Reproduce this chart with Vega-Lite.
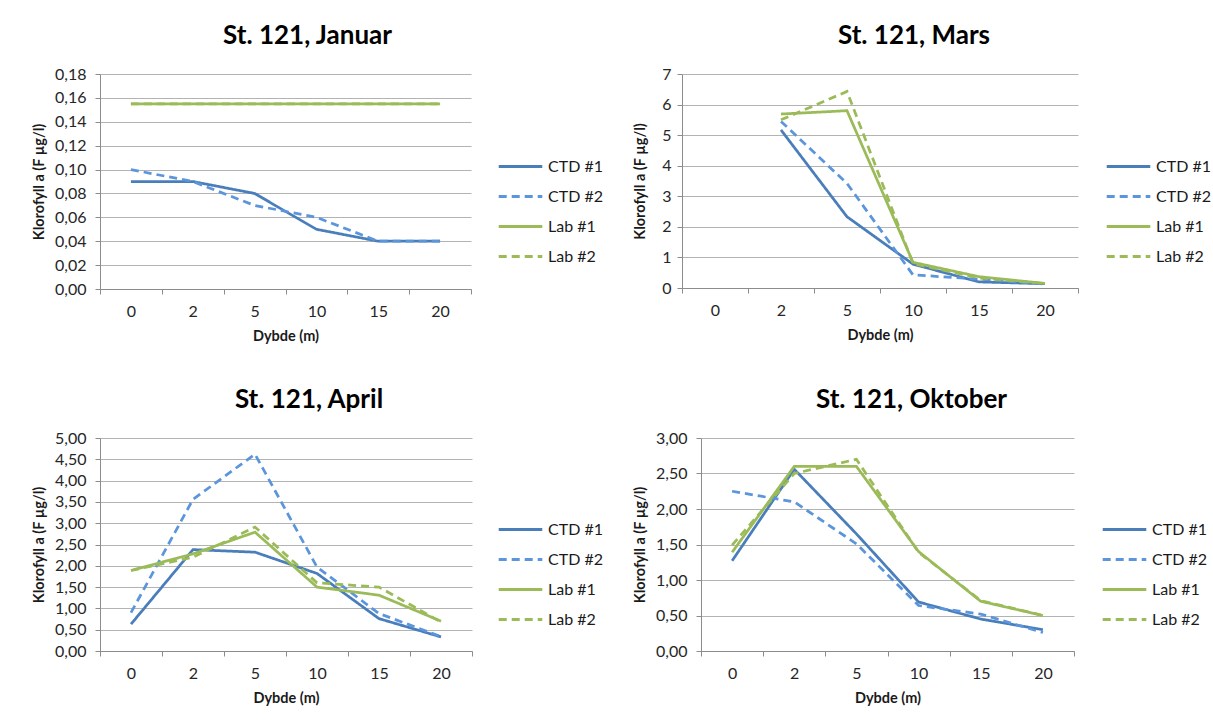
{
  "$schema": "https://vega.github.io/schema/vega-lite/v6.json",
  "background": "white",
  "padding": {"left": 31, "top": 23, "right": 5, "bottom": 5},
  "spacing": 44,
  "config": {
    "font": "Lato",
    "view": {"stroke": null},
    "axis": {"labelFont": "Lato", "labelFontSize": 16, "labelColor": "#262626", "titleFont": "Lato", "titleFontSize": 14.5, "titleFontWeight": "bold", "titleColor": "#1a1a1a", "domainColor": "#8c8c8c", "tickColor": "#8c8c8c", "gridColor": "#b3b3b3", "tickSize": 5},
    "axisX": {"grid": false, "labelAngle": 0, "tickBand": "extent", "labelPadding": 9, "titlePadding": 10},
    "axisY": {"grid": true, "labelPadding": 9, "titlePadding": 8},
    "title": {"font": "Lato", "fontSize": 26, "fontWeight": "bold", "color": "#000000", "anchor": "middle"},
    "legend": {"labelFont": "Lato", "labelFontSize": 16, "labelColor": "#1a1a1a"}
  },
  "data": {"values": [
    {"month": "Januar", "series": "CTD #1", "depth": "0", "value": 0.09},
    {"month": "Januar", "series": "CTD #1", "depth": "2", "value": 0.09},
    {"month": "Januar", "series": "CTD #1", "depth": "5", "value": 0.08},
    {"month": "Januar", "series": "CTD #1", "depth": "10", "value": 0.05},
    {"month": "Januar", "series": "CTD #1", "depth": "15", "value": 0.04},
    {"month": "Januar", "series": "CTD #1", "depth": "20", "value": 0.04},
    {"month": "Januar", "series": "CTD #2", "depth": "0", "value": 0.10},
    {"month": "Januar", "series": "CTD #2", "depth": "2", "value": 0.09},
    {"month": "Januar", "series": "CTD #2", "depth": "5", "value": 0.07},
    {"month": "Januar", "series": "CTD #2", "depth": "10", "value": 0.06},
    {"month": "Januar", "series": "CTD #2", "depth": "15", "value": 0.04},
    {"month": "Januar", "series": "CTD #2", "depth": "20", "value": 0.04},
    {"month": "Januar", "series": "Lab #1", "depth": "0", "value": 0.155},
    {"month": "Januar", "series": "Lab #1", "depth": "2", "value": 0.155},
    {"month": "Januar", "series": "Lab #1", "depth": "5", "value": 0.155},
    {"month": "Januar", "series": "Lab #1", "depth": "10", "value": 0.155},
    {"month": "Januar", "series": "Lab #1", "depth": "15", "value": 0.155},
    {"month": "Januar", "series": "Lab #1", "depth": "20", "value": 0.155},
    {"month": "Januar", "series": "Lab #2", "depth": "0", "value": 0.155},
    {"month": "Januar", "series": "Lab #2", "depth": "2", "value": 0.155},
    {"month": "Januar", "series": "Lab #2", "depth": "5", "value": 0.155},
    {"month": "Januar", "series": "Lab #2", "depth": "10", "value": 0.155},
    {"month": "Januar", "series": "Lab #2", "depth": "15", "value": 0.155},
    {"month": "Januar", "series": "Lab #2", "depth": "20", "value": 0.155},

    {"month": "Mars", "series": "CTD #1", "depth": "2", "value": 5.17},
    {"month": "Mars", "series": "CTD #1", "depth": "5", "value": 2.33},
    {"month": "Mars", "series": "CTD #1", "depth": "10", "value": 0.78},
    {"month": "Mars", "series": "CTD #1", "depth": "15", "value": 0.2},
    {"month": "Mars", "series": "CTD #1", "depth": "20", "value": 0.14},
    {"month": "Mars", "series": "CTD #2", "depth": "2", "value": 5.45},
    {"month": "Mars", "series": "CTD #2", "depth": "5", "value": 3.42},
    {"month": "Mars", "series": "CTD #2", "depth": "10", "value": 0.43},
    {"month": "Mars", "series": "CTD #2", "depth": "15", "value": 0.29},
    {"month": "Mars", "series": "CTD #2", "depth": "20", "value": 0.13},
    {"month": "Mars", "series": "Lab #1", "depth": "2", "value": 5.69},
    {"month": "Mars", "series": "Lab #1", "depth": "5", "value": 5.8},
    {"month": "Mars", "series": "Lab #1", "depth": "10", "value": 0.84},
    {"month": "Mars", "series": "Lab #1", "depth": "15", "value": 0.37},
    {"month": "Mars", "series": "Lab #1", "depth": "20", "value": 0.15},
    {"month": "Mars", "series": "Lab #2", "depth": "2", "value": 5.5},
    {"month": "Mars", "series": "Lab #2", "depth": "5", "value": 6.43},
    {"month": "Mars", "series": "Lab #2", "depth": "10", "value": 0.8},
    {"month": "Mars", "series": "Lab #2", "depth": "15", "value": 0.33},
    {"month": "Mars", "series": "Lab #2", "depth": "20", "value": 0.15},

    {"month": "April", "series": "CTD #1", "depth": "0", "value": 0.63},
    {"month": "April", "series": "CTD #1", "depth": "2", "value": 2.38},
    {"month": "April", "series": "CTD #1", "depth": "5", "value": 2.32},
    {"month": "April", "series": "CTD #1", "depth": "10", "value": 1.82},
    {"month": "April", "series": "CTD #1", "depth": "15", "value": 0.76},
    {"month": "April", "series": "CTD #1", "depth": "20", "value": 0.33},
    {"month": "April", "series": "CTD #2", "depth": "0", "value": 0.9},
    {"month": "April", "series": "CTD #2", "depth": "2", "value": 3.56},
    {"month": "April", "series": "CTD #2", "depth": "5", "value": 4.62},
    {"month": "April", "series": "CTD #2", "depth": "10", "value": 1.97},
    {"month": "April", "series": "CTD #2", "depth": "15", "value": 0.88},
    {"month": "April", "series": "CTD #2", "depth": "20", "value": 0.34},
    {"month": "April", "series": "Lab #1", "depth": "0", "value": 1.89},
    {"month": "April", "series": "Lab #1", "depth": "2", "value": 2.28},
    {"month": "April", "series": "Lab #1", "depth": "5", "value": 2.79},
    {"month": "April", "series": "Lab #1", "depth": "10", "value": 1.5},
    {"month": "April", "series": "Lab #1", "depth": "15", "value": 1.31},
    {"month": "April", "series": "Lab #1", "depth": "20", "value": 0.7},
    {"month": "April", "series": "Lab #2", "depth": "0", "value": 1.89},
    {"month": "April", "series": "Lab #2", "depth": "2", "value": 2.2},
    {"month": "April", "series": "Lab #2", "depth": "5", "value": 2.91},
    {"month": "April", "series": "Lab #2", "depth": "10", "value": 1.6},
    {"month": "April", "series": "Lab #2", "depth": "15", "value": 1.5},
    {"month": "April", "series": "Lab #2", "depth": "20", "value": 0.68},

    {"month": "Oktober", "series": "CTD #1", "depth": "0", "value": 1.27},
    {"month": "Oktober", "series": "CTD #1", "depth": "2", "value": 2.56},
    {"month": "Oktober", "series": "CTD #1", "depth": "5", "value": 1.65},
    {"month": "Oktober", "series": "CTD #1", "depth": "10", "value": 0.69},
    {"month": "Oktober", "series": "CTD #1", "depth": "15", "value": 0.45},
    {"month": "Oktober", "series": "CTD #1", "depth": "20", "value": 0.3},
    {"month": "Oktober", "series": "CTD #2", "depth": "0", "value": 2.25},
    {"month": "Oktober", "series": "CTD #2", "depth": "2", "value": 2.1},
    {"month": "Oktober", "series": "CTD #2", "depth": "5", "value": 1.51},
    {"month": "Oktober", "series": "CTD #2", "depth": "10", "value": 0.64},
    {"month": "Oktober", "series": "CTD #2", "depth": "15", "value": 0.52},
    {"month": "Oktober", "series": "CTD #2", "depth": "20", "value": 0.26},
    {"month": "Oktober", "series": "Lab #1", "depth": "0", "value": 1.39},
    {"month": "Oktober", "series": "Lab #1", "depth": "2", "value": 2.6},
    {"month": "Oktober", "series": "Lab #1", "depth": "5", "value": 2.6},
    {"month": "Oktober", "series": "Lab #1", "depth": "10", "value": 1.4},
    {"month": "Oktober", "series": "Lab #1", "depth": "15", "value": 0.7},
    {"month": "Oktober", "series": "Lab #1", "depth": "20", "value": 0.5},
    {"month": "Oktober", "series": "Lab #2", "depth": "0", "value": 1.49},
    {"month": "Oktober", "series": "Lab #2", "depth": "2", "value": 2.5},
    {"month": "Oktober", "series": "Lab #2", "depth": "5", "value": 2.7},
    {"month": "Oktober", "series": "Lab #2", "depth": "10", "value": 1.39},
    {"month": "Oktober", "series": "Lab #2", "depth": "15", "value": 0.71},
    {"month": "Oktober", "series": "Lab #2", "depth": "20", "value": 0.5}
  ]},
  "vconcat": [
    {"hconcat": [
      {
        "title": {"text": "St. 121, Januar", "dx": 22, "offset": 17},
        "width": 371, "height": 215,
        "transform": [{"filter": "datum.month == 'Januar'"}],
        "mark": {"type": "line", "strokeWidth": 2.75},
        "encoding": {
          "x": {"field": "depth", "type": "ordinal", "scale": {"type": "band", "domain": ["0","2","5","10","15","20"], "paddingInner": 0, "paddingOuter": 0}, "axis": {"title": "Dybde (m)"}},
          "y": {"field": "value", "type": "quantitative", "scale": {"domain": [0, 0.18], "nice": false}, "axis": {"title": "Klorofyll a (F µg/l)", "values": [0,0.02,0.04,0.06,0.08,0.1,0.12,0.14,0.16,0.18], "labelExpr": "replace(format(datum.value, '.2f'), '.', ',')"}},
          "color": {"field": "series", "type": "nominal", "scale": {"domain": ["CTD #1","CTD #2","Lab #1","Lab #2"], "range": ["#4a7ebb","#5b95dc","#9bbb59","#9bbb59"]}, "legend": {"title": null, "orient": "none", "legendX": 397, "legendY": 84, "symbolType": "stroke", "symbolSize": 1900, "symbolStrokeWidth": 3, "rowPadding": 13, "labelOffset": 4, "clipHeight": 17}},
          "strokeDash": {"field": "series", "type": "nominal", "scale": {"domain": ["CTD #1","CTD #2","Lab #1","Lab #2"], "range": [[1,0],[8,5],[1,0],[8,5]]}, "legend": {"title": null, "orient": "none", "legendX": 397, "legendY": 84, "symbolType": "stroke", "symbolSize": 1900, "symbolStrokeWidth": 3, "rowPadding": 13, "labelOffset": 4, "clipHeight": 17}}
        }
      },
      {
        "title": {"text": "St. 121, Mars", "dx": 34, "offset": 17},
        "width": 396, "height": 214,
        "transform": [{"filter": "datum.month == 'Mars'"}],
        "mark": {"type": "line", "strokeWidth": 2.75},
        "encoding": {
          "x": {"field": "depth", "type": "ordinal", "scale": {"type": "band", "domain": ["0","2","5","10","15","20"], "paddingInner": 0, "paddingOuter": 0}, "axis": {"title": "Dybde (m)"}},
          "y": {"field": "value", "type": "quantitative", "scale": {"domain": [0, 7], "nice": false}, "axis": {"title": "Klorofyll a (F µg/l)", "values": [0,1,2,3,4,5,6,7], "format": "d", "titlePadding": 14, "labelPadding": 6}},
          "color": {"field": "series", "type": "nominal", "scale": {"domain": ["CTD #1","CTD #2","Lab #1","Lab #2"], "range": ["#4a7ebb","#5b95dc","#9bbb59","#9bbb59"]}, "legend": {"title": null, "orient": "none", "legendX": 423, "legendY": 84, "symbolType": "stroke", "symbolSize": 1900, "symbolStrokeWidth": 3, "rowPadding": 13, "labelOffset": 4, "clipHeight": 17}},
          "strokeDash": {"field": "series", "type": "nominal", "scale": {"domain": ["CTD #1","CTD #2","Lab #1","Lab #2"], "range": [[1,0],[8,5],[1,0],[8,5]]}, "legend": {"title": null, "orient": "none", "legendX": 423, "legendY": 84, "symbolType": "stroke", "symbolSize": 1900, "symbolStrokeWidth": 3, "rowPadding": 13, "labelOffset": 4, "clipHeight": 17}}
        }
      }
    ], "spacing": 29,
    "resolve": {"scale": {"color": "independent", "strokeDash": "independent", "y": "independent", "x": "independent"}, "legend": {"color": "independent", "strokeDash": "independent"}}},
    {"hconcat": [
      {
        "title": {"text": "St. 121, April", "dx": 23, "offset": 17},
        "width": 372, "height": 213,
        "transform": [{"filter": "datum.month == 'April'"}],
        "mark": {"type": "line", "strokeWidth": 2.75},
        "encoding": {
          "x": {"field": "depth", "type": "ordinal", "scale": {"type": "band", "domain": ["0","2","5","10","15","20"], "paddingInner": 0, "paddingOuter": 0}, "axis": {"title": "Dybde (m)"}},
          "y": {"field": "value", "type": "quantitative", "scale": {"domain": [0, 5], "nice": false}, "axis": {"title": "Klorofyll a (F µg/l)", "values": [0,0.5,1,1.5,2,2.5,3,3.5,4,4.5,5], "labelExpr": "replace(format(datum.value, '.2f'), '.', ',')"}},
          "color": {"field": "series", "type": "nominal", "scale": {"domain": ["CTD #1","CTD #2","Lab #1","Lab #2"], "range": ["#4a7ebb","#5b95dc","#9bbb59","#9bbb59"]}, "legend": {"title": null, "orient": "none", "legendX": 397, "legendY": 83, "symbolType": "stroke", "symbolSize": 1900, "symbolStrokeWidth": 3, "rowPadding": 13, "labelOffset": 4, "clipHeight": 17}},
          "strokeDash": {"field": "series", "type": "nominal", "scale": {"domain": ["CTD #1","CTD #2","Lab #1","Lab #2"], "range": [[1,0],[8,5],[1,0],[8,5]]}, "legend": {"title": null, "orient": "none", "legendX": 397, "legendY": 83, "symbolType": "stroke", "symbolSize": 1900, "symbolStrokeWidth": 3, "rowPadding": 13, "labelOffset": 4, "clipHeight": 17}}
        }
      },
      {
        "title": {"text": "St. 121, Oktober", "dx": 24, "offset": 17},
        "width": 373, "height": 213,
        "transform": [{"filter": "datum.month == 'Oktober'"}],
        "mark": {"type": "line", "strokeWidth": 2.75},
        "encoding": {
          "x": {"field": "depth", "type": "ordinal", "scale": {"type": "band", "domain": ["0","2","5","10","15","20"], "paddingInner": 0, "paddingOuter": 0}, "axis": {"title": "Dybde (m)"}},
          "y": {"field": "value", "type": "quantitative", "scale": {"domain": [0, 3], "nice": false}, "axis": {"title": "Klorofyll a (F µg/l)", "values": [0,0.5,1,1.5,2,2.5,3], "labelExpr": "replace(format(datum.value, '.2f'), '.', ',')"}},
          "color": {"field": "series", "type": "nominal", "scale": {"domain": ["CTD #1","CTD #2","Lab #1","Lab #2"], "range": ["#4a7ebb","#5b95dc","#9bbb59","#9bbb59"]}, "legend": {"title": null, "orient": "none", "legendX": 400, "legendY": 83, "symbolType": "stroke", "symbolSize": 1900, "symbolStrokeWidth": 3, "rowPadding": 13, "labelOffset": 4, "clipHeight": 17}},
          "strokeDash": {"field": "series", "type": "nominal", "scale": {"domain": ["CTD #1","CTD #2","Lab #1","Lab #2"], "range": [[1,0],[8,5],[1,0],[8,5]]}, "legend": {"title": null, "orient": "none", "legendX": 400, "legendY": 83, "symbolType": "stroke", "symbolSize": 1900, "symbolStrokeWidth": 3, "rowPadding": 13, "labelOffset": 4, "clipHeight": 17}}
        }
      }
    ], "spacing": 29,
    "resolve": {"scale": {"color": "independent", "strokeDash": "independent", "y": "independent", "x": "independent"}, "legend": {"color": "independent", "strokeDash": "independent"}}}
  ],
  "resolve": {"scale": {"color": "independent", "strokeDash": "independent", "y": "independent", "x": "independent"}}
}
